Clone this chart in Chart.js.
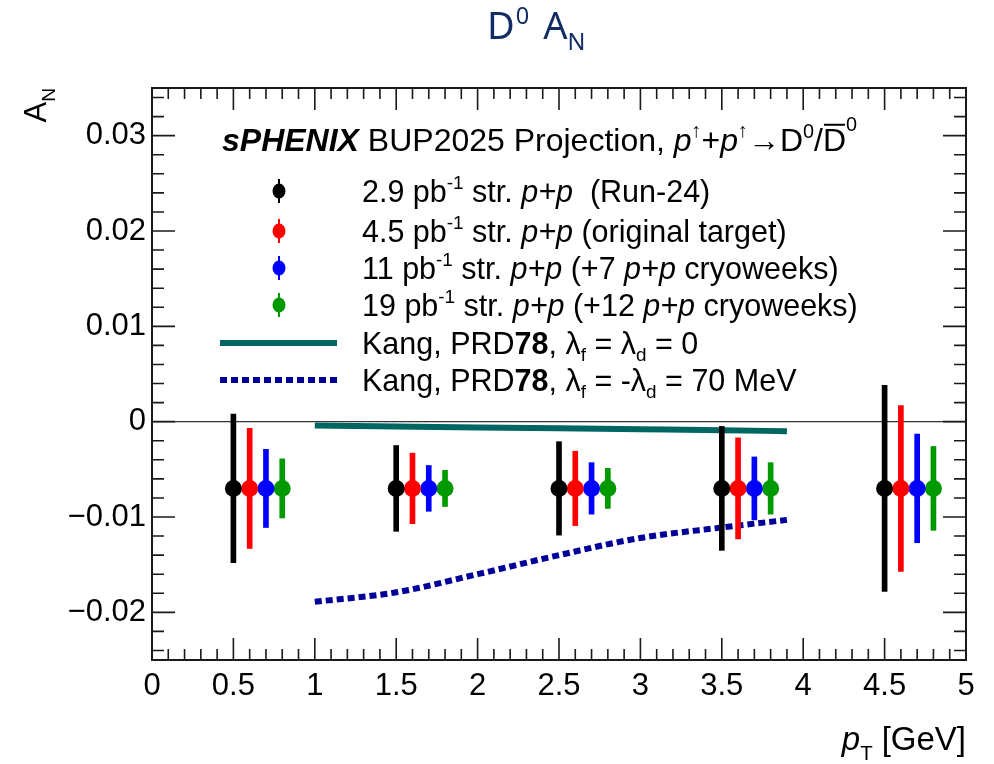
<!DOCTYPE html>
<html>
<head>
<meta charset="utf-8">
<title>D0 AN projection</title>
<script src="https://cdn.jsdelivr.net/npm/chart.js@4.4.1/dist/chart.umd.min.js"></script>
<style>
  html, body { margin: 0; padding: 0; background: #ffffff; }
  #wrap { width: 994px; height: 764px; position: relative; }
</style>
</head>
<body>
<div id="wrap"><canvas id="chart"></canvas></div>
<script>
// ---- data ----------------------------------------------------------------
// pT bin positions for each luminosity scenario (shifted for visibility)
const ptRun24   = [0.5, 1.5, 2.5, 3.5, 4.5];
const ptOrig    = [0.6, 1.6, 2.6, 3.6, 4.6];
const ptCryo7   = [0.7, 1.7, 2.7, 3.7, 4.7];
const ptCryo12  = [0.8, 1.8, 2.8, 3.8, 4.8];

// projected central values of A_N
const anRun24   = [-0.007, -0.007, -0.007, -0.007, -0.007];
const anOrig    = [-0.007, -0.007, -0.007, -0.007, -0.007];
const anCryo7   = [-0.007, -0.007, -0.007, -0.007, -0.007];
const anCryo12  = [-0.007, -0.007, -0.007, -0.007, -0.007];

// statistical uncertainties
const errRun24  = [0.0078, 0.0045, 0.0049, 0.0065, 0.0108];
const errOrig   = [0.0063, 0.0037, 0.0039, 0.0053, 0.0087];
const errCryo7  = [0.0041, 0.0024, 0.0027, 0.0033, 0.0057];
const errCryo12 = [0.0031, 0.0019, 0.0021, 0.0027, 0.0044];

// theory curves (Kang, PRD 78)
const kangPt    = [1.0, 1.5, 2.0, 2.5, 3.0, 3.5, 3.9];
const kangZero  = [-0.0004, -0.0005, -0.0006, -0.0007, -0.0008, -0.0009, -0.0010];
const kang70    = [-0.0189, -0.0179, -0.0160, -0.0140, -0.0122, -0.0111, -0.0103];

// axis tick labels
const xTickVals = [0, 0.5, 1, 1.5, 2, 2.5, 3, 3.5, 4, 4.5, 5];
const yTickVals = [-0.02, -0.01, 0, 0.01, 0.02, 0.03];

// ---- style ---------------------------------------------------------------
const FONT = '"Liberation Sans", Arial, Helvetica, sans-serif';
const C_BLACK = '#000000', C_RED = '#ff0000', C_BLUE = '#0000ff', C_GREEN = '#009a00';
const C_TEAL = '#006662', C_NAVY = '#000099';

const series = [
  { pt: ptRun24,  an: anRun24,  err: errRun24,  color: C_BLACK },
  { pt: ptOrig,   an: anOrig,   err: errOrig,   color: C_RED },
  { pt: ptCryo7,  an: anCryo7,  err: errCryo7,  color: C_BLUE },
  { pt: ptCryo12, an: anCryo12, err: errCryo12, color: C_GREEN }
];

const markerSets = series.map(s => ({
  type: 'scatter',
  data: s.pt.map((x, i) => ({ x, y: s.an[i] })),
  pointRadius: 8.5,
  pointStyle: 'circle',
  backgroundColor: s.color,
  borderColor: s.color,
  borderWidth: 0,
  order: 0
}));

const errorSets = series.map(s => ({
  type: 'bar',
  data: s.pt.map((x, i) => ({ x, y: [s.an[i] - s.err[i], s.an[i] + s.err[i]] })),
  backgroundColor: s.color,
  borderWidth: 0,
  barThickness: 5,
  grouped: false,
  order: 1
}));

const lineSets = [
  {
    type: 'line',
    data: kangPt.map((x, i) => ({ x, y: kangZero[i] })),
    showLine: true,
    borderColor: C_TEAL,
    borderWidth: 6,
    pointRadius: 0,
    tension: 0.3,
    cubicInterpolationMode: 'monotone',
    fill: false,
    order: 2
  },
  {
    type: 'line',
    data: kangPt.map((x, i) => ({ x, y: kang70[i] })),
    showLine: true,
    borderColor: C_NAVY,
    borderWidth: 6,
    borderDash: [7, 4],
    borderCapStyle: 'butt',
    pointRadius: 0,
    tension: 0.3,
    cubicInterpolationMode: 'monotone',
    fill: false,
    order: 2
  }
];

// ---- rich text helper (sub/superscripts, italics, overline) ---------------
function drawRich(ctx, segs, x, y, size, opt = {}) {
  const family = opt.family || FONT;
  const items = segs.map(s => {
    const small = s.sub || s.sup;
    const fs = small ? size * 0.62 : size;
    const font = (s.it ? 'italic ' : '') + (s.b ? 'bold ' : '') + fs + 'px ' + family;
    ctx.font = font;
    const w = ctx.measureText(s.t).width;
    let dy = 0;
    if (s.sup) dy = -size * (s.raise || 0.42);
    if (s.sub) dy = size * (s.lower || 0.24);
    return { s, font, w, dy, fs };
  });
  const total = items.reduce((a, it) => a + it.w + (it.s.gap || 0), 0);
  let cx = x;
  if (opt.align === 'right') cx = x - total;
  else if (opt.align === 'center') cx = x - total / 2;
  ctx.textBaseline = 'alphabetic';
  ctx.textAlign = 'left';
  items.forEach(it => {
    ctx.font = it.font;
    ctx.fillText(it.s.t, cx, y + it.dy);
    if (it.s.over) {
      ctx.save();
      ctx.lineWidth = 2;
      ctx.strokeStyle = ctx.fillStyle;
      ctx.beginPath();
      const oy = y - size * 0.82;
      ctx.moveTo(cx + 1, oy);
      ctx.lineTo(cx + it.w - 1, oy);
      ctx.stroke();
      ctx.restore();
    }
    cx += it.w + (it.s.gap || 0);
  });
  return total;
}

// ---- frame with inward ticks on all four sides ----------------------------
const frameTicks = {
  id: 'frameTicks',
  afterDatasetsDraw(chart) {
    const { ctx, chartArea: a, scales: { x, y } } = chart;
    ctx.save();
    ctx.strokeStyle = '#1a1a1a';
    ctx.lineWidth = 1.6;
    ctx.beginPath();
    // x: major every 0.5, minor every 0.1
    for (let k = 0; k <= 50; k++) {
      const px = x.getPixelForValue(k * 0.1);
      const L = (k % 5 === 0) ? 22 : 11;
      ctx.moveTo(px, a.bottom); ctx.lineTo(px, a.bottom - L);
      ctx.moveTo(px, a.top);    ctx.lineTo(px, a.top + L);
    }
    // y: major every 0.01, minor every 0.002
    for (let k = -12; k <= 17; k++) {
      const py = y.getPixelForValue(k * 0.002);
      const L = (k % 5 === 0) ? 23 : 12;
      ctx.moveTo(a.left, py);  ctx.lineTo(a.left + L, py);
      ctx.moveTo(a.right, py); ctx.lineTo(a.right - L, py);
    }
    ctx.stroke();
    ctx.lineWidth = 2;
    ctx.strokeRect(a.left, a.top, a.right - a.left, a.bottom - a.top);
    ctx.restore();
  }
};

// ---- titles and legend --------------------------------------------------
const annotations = {
  id: 'annotations',
  afterDraw(chart) {
    const { ctx, chartArea: a } = chart;
    ctx.save();

    // page title
    ctx.fillStyle = '#112d63';
    drawRich(ctx, [{ t: 'D', gap: 1 }, { t: '0', sup: true, raise: 0.4, gap: 14 }, { t: 'A' }, { t: 'N', sub: true, lower: 0.3 }],
      487, 39, 38, { family: '"Noto Sans", "Open Sans", sans-serif' });

    ctx.fillStyle = '#000000';
    // y-axis title (rotated)
    ctx.save();
    ctx.translate(46, a.top);
    ctx.rotate(-Math.PI / 2);
    drawRich(ctx, [{ t: 'A' }, { t: 'N', sub: true, lower: 0.3 }], 0, 0, 31, { align: 'right' });
    ctx.restore();

    // x-axis title
    drawRich(ctx, [{ t: 'p', it: true }, { t: 'T', sub: true, lower: 0.3, gap: 9 }, { t: '[GeV]' }],
      a.right, 750, 33, { align: 'right' });

    // legend header
    drawRich(ctx, [
      { t: 'sPHENIX', b: true, it: true }, { t: ' BUP2025 Projection, ' },
      { t: 'p', it: true }, { t: '\u2191', sup: true, raise: 0.45 }, { t: '+' },
      { t: 'p', it: true }, { t: '\u2191', sup: true, raise: 0.45 }, { t: '\u2192' },
      { t: 'D' }, { t: '0', sup: true }, { t: '/' }, { t: 'D', over: true }, { t: '0', sup: true, raise: 0.62 }
    ], 222, 151, 32);

    const LS = 30.5;
    const rowY = [191, 231, 268, 305, 343, 380];
    const textX = 362;
    const rows = [
      [{ t: '2.9 pb' }, { t: '-1', sup: true }, { t: ' str. ' }, { t: 'p+p', it: true }, { t: '  (Run-24)' }],
      [{ t: '4.5 pb' }, { t: '-1', sup: true }, { t: ' str. ' }, { t: 'p+p', it: true }, { t: ' (original target)' }],
      [{ t: '11 pb' }, { t: '-1', sup: true }, { t: ' str. ' }, { t: 'p+p', it: true }, { t: ' (+7 ' }, { t: 'p+p', it: true }, { t: ' cryoweeks)' }],
      [{ t: '19 pb' }, { t: '-1', sup: true }, { t: ' str. ' }, { t: 'p+p', it: true }, { t: ' (+12 ' }, { t: 'p+p', it: true }, { t: ' cryoweeks)' }],
      [{ t: 'Kang, PRD' }, { t: '78', b: true }, { t: ', \u03bb' }, { t: 'f', sub: true }, { t: ' = \u03bb' }, { t: 'd', sub: true }, { t: ' = 0' }],
      [{ t: 'Kang, PRD' }, { t: '78', b: true }, { t: ', \u03bb' }, { t: 'f', sub: true }, { t: ' = -\u03bb' }, { t: 'd', sub: true }, { t: ' = 70 MeV' }]
    ];
    rows.forEach((segs, i) => drawRich(ctx, segs, textX, rowY[i] + 11, LS));

    // legend symbols
    series.forEach((s, i) => {
      const cy = rowY[i], cx = 279;
      ctx.fillStyle = s.color;
      ctx.strokeStyle = s.color;
      ctx.lineWidth = 2;
      ctx.beginPath(); ctx.moveTo(cx, cy - 12); ctx.lineTo(cx, cy + 12); ctx.stroke();
      ctx.beginPath(); ctx.ellipse(cx, cy, 6.5, 7.5, 0, 0, Math.PI * 2); ctx.fill();
    });
    ctx.lineCap = 'butt';
    ctx.lineWidth = 6;
    ctx.strokeStyle = C_TEAL;
    ctx.beginPath(); ctx.moveTo(220, rowY[4]); ctx.lineTo(337, rowY[4]); ctx.stroke();
    ctx.strokeStyle = C_NAVY;
    ctx.setLineDash([7, 4]);
    ctx.beginPath(); ctx.moveTo(220, rowY[5]); ctx.lineTo(337, rowY[5]); ctx.stroke();
    ctx.setLineDash([]);
    ctx.restore();
  }
};

function fmtY(v) {
  if (Math.abs(v) < 1e-9) return '0';
  return (v < 0 ? '\u2212' : '') + Math.abs(v).toFixed(2);
}

new Chart(document.getElementById('chart'), {
  type: 'scatter',
  data: { datasets: [...markerSets, ...errorSets, ...lineSets] },
  options: {
    responsive: true,
    maintainAspectRatio: false,
    animation: false,
    events: [],
    layout: { padding: { top: 88, right: 28, left: 0, bottom: 0 } },
    plugins: { legend: { display: false }, tooltip: { enabled: false }, title: { display: false } },
    scales: {
      x: {
        type: 'linear', min: 0, max: 5, offset: false,
        afterBuildTicks: s => { s.ticks = xTickVals.map(v => ({ value: v })); },
        afterFit: s => { s.height = 104; },
        grid: { display: false, drawTicks: false },
        border: { display: false },
        ticks: { color: '#000', padding: 8, maxRotation: 0, autoSkip: false,
                 font: { family: FONT, size: 31 }, callback: v => String(v) }
      },
      y: {
        type: 'linear', min: -0.025, max: 0.035,
        afterBuildTicks: s => { s.ticks = yTickVals.map(v => ({ value: v })); },
        afterFit: s => { s.width = 152; },
        grid: { drawTicks: false, lineWidth: 1.2,
                color: c => (c.tick && Math.abs(c.tick.value) < 1e-9) ? '#333333' : 'rgba(0,0,0,0)' },
        border: { display: false },
        ticks: { color: '#000', padding: 6, autoSkip: false,
                 font: { family: FONT, size: 31 }, callback: v => fmtY(v) }
      }
    }
  },
  plugins: [frameTicks, annotations]
});
</script>
</body>
</html>
